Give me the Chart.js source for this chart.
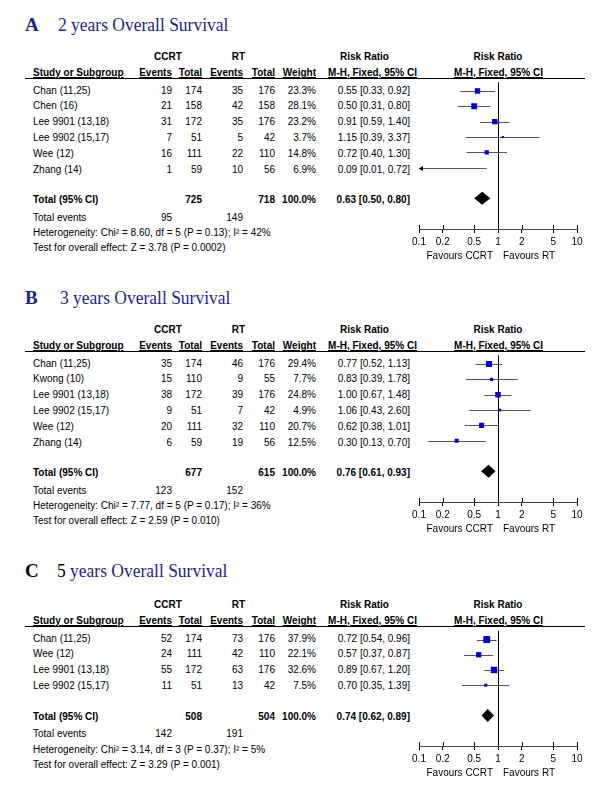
<!DOCTYPE html>
<html><head><meta charset="utf-8">
<script src="https://cdn.jsdelivr.net/npm/chart.js@4.4.0/dist/chart.umd.min.js"></script>
<style>
html,body{margin:0;padding:0;background:#fff;}
#wrap{position:relative;width:600px;height:797px;overflow:hidden;font-family:"Liberation Sans",Arial,sans-serif;font-size:10px;color:#000;}
.t{position:absolute;white-space:nowrap;line-height:12px;height:12px;}
.b{font-weight:bold;}
.u{text-decoration:underline;}
.title{position:absolute;white-space:nowrap;font-family:"Liberation Serif","Times New Roman",serif;font-size:19px;line-height:22px;color:#1e1e8e;transform-origin:left center;}
canvas{position:absolute;}
.hline{position:absolute;height:1px;background:#000;}
</style></head><body><div id="wrap"></div>
<script>
// ---------- Panel A : 2 years Overall Survival ----------
const studiesA = ["Chan (11,25)", "Chen (16)", "Lee 9901 (13,18)", "Lee 9902 (15,17)", "Wee (12)", "Zhang (14)"];
const ccrtEventsA = [19, 21, 31, 7, 16, 1];
const ccrtTotalA = [174, 158, 172, 51, 111, 59];
const rtEventsA = [35, 42, 35, 5, 22, 10];
const rtTotalA = [176, 158, 176, 42, 110, 56];
const weightA = [23.3, 28.1, 23.2, 3.7, 14.8, 6.9];
const rrA = [0.55, 0.50, 0.91, 1.15, 0.72, 0.09];
const lowA = [0.33, 0.31, 0.59, 0.39, 0.40, 0.01];
const highA = [0.92, 0.80, 1.40, 3.37, 1.30, 0.72];
const totalA = [725, 718, 95, 149];           // CCRT total, RT total, CCRT events, RT events
const pooledA = [0.63, 0.50, 0.80];
const hetA = "Heterogeneity: Chi\u00B2 = 8.60, df = 5 (P = 0.13); I\u00B2 = 42%";
const testA = "Test for overall effect: Z = 3.78 (P = 0.0002)";

// ---------- Panel B : 3 years Overall Survival ----------
const studiesB = ["Chan (11,25)", "Kwong (10)", "Lee 9901 (13,18)", "Lee 9902 (15,17)", "Wee (12)", "Zhang (14)"];
const ccrtEventsB = [35, 15, 38, 9, 20, 6];
const ccrtTotalB = [174, 110, 172, 51, 111, 59];
const rtEventsB = [46, 9, 39, 7, 32, 19];
const rtTotalB = [176, 55, 176, 42, 110, 56];
const weightB = [29.4, 7.7, 24.8, 4.9, 20.7, 12.5];
const rrB = [0.77, 0.83, 1.00, 1.06, 0.62, 0.30];
const lowB = [0.52, 0.39, 0.67, 0.43, 0.38, 0.13];
const highB = [1.13, 1.78, 1.48, 2.60, 1.01, 0.70];
const totalB = [677, 615, 123, 152];
const pooledB = [0.76, 0.61, 0.93];
const hetB = "Heterogeneity: Chi\u00B2 = 7.77, df = 5 (P = 0.17); I\u00B2 = 36%";
const testB = "Test for overall effect: Z = 2.59 (P = 0.010)";

// ---------- Panel C : 5 years Overall Survival ----------
const studiesC = ["Chan (11,25)", "Wee (12)", "Lee 9901 (13,18)", "Lee 9902 (15,17)"];
const ccrtEventsC = [52, 24, 55, 11];
const ccrtTotalC = [174, 111, 172, 51];
const rtEventsC = [73, 42, 63, 13];
const rtTotalC = [176, 110, 176, 42];
const weightC = [37.9, 22.1, 32.6, 7.5];
const rrC = [0.72, 0.57, 0.89, 0.70];
const lowC = [0.54, 0.37, 0.67, 0.35];
const highC = [0.96, 0.87, 1.20, 1.39];
const totalC = [508, 504, 142, 191];
const pooledC = [0.74, 0.62, 0.89];
const hetC = "Heterogeneity: Chi\u00B2 = 3.14, df = 3 (P = 0.37); I\u00B2 = 5%";
const testC = "Test for overall effect: Z = 3.29 (P = 0.001)";

const axisTicks = [0.1, 0.2, 0.5, 1, 2, 5, 10];

// ---------- layout ----------
const wrap = document.getElementById('wrap');
const ROW = 15.8;

function T(x, y, s, align, cls) {
  const d = document.createElement('div');
  d.className = 't ' + (cls || '');
  d.textContent = s;
  if (align === 'r') { d.style.left = (x - 200) + 'px'; d.style.width = '200px'; d.style.textAlign = 'right'; }
  else if (align === 'c') { d.style.left = (x - 150) + 'px'; d.style.width = '300px'; d.style.textAlign = 'center'; }
  else d.style.left = x + 'px';
  d.style.top = (y - 7) + 'px';
  wrap.appendChild(d);
  return d;
}
const f2 = v => v.toFixed(2);
const ciTxt = (r, l, h) => f2(r) + ' [' + f2(l) + ', ' + f2(h) + ']';

function makeForestPlugin(lo, hi, pooled) {
  return {
    id: 'forest',
    beforeDatasetsDraw(chart) {
      const { ctx, chartArea: a, scales: { x, y } } = chart;
      ctx.save();
      ctx.lineWidth = 1;
      // line of no effect
      const x1 = Math.round(x.getPixelForValue(1)) + 0.5;
      ctx.strokeStyle = '#000';
      ctx.beginPath(); ctx.moveTo(x1, a.top); ctx.lineTo(x1, a.bottom); ctx.stroke();
      // confidence intervals
      lo.forEach((l, i) => {
        const h = hi[i];
        const yy = Math.round(y.getPixelForValue(i)) + 0.5;
        const xl = x.getPixelForValue(Math.max(l, x.min));
        const xr = x.getPixelForValue(Math.min(h, x.max));
        ctx.strokeStyle = '#555';
        ctx.beginPath(); ctx.moveTo(xl, yy); ctx.lineTo(xr, yy); ctx.stroke();
        ctx.fillStyle = '#000';
        if (l < x.min) {
          ctx.beginPath(); ctx.moveTo(xl, yy); ctx.lineTo(xl + 4, yy - 2.5); ctx.lineTo(xl + 4, yy + 2.5); ctx.closePath(); ctx.fill();
        }
        if (h > x.max) {
          ctx.beginPath(); ctx.moveTo(xr, yy); ctx.lineTo(xr - 4, yy - 2.5); ctx.lineTo(xr - 4, yy + 2.5); ctx.closePath(); ctx.fill();
        }
      });
      // pooled diamond
      const yd = y.getPixelForValue(lo.length + 1);
      const xc = x.getPixelForValue(pooled[0]);
      const xa = x.getPixelForValue(pooled[1]);
      const xb = x.getPixelForValue(pooled[2]);
      ctx.fillStyle = '#000';
      ctx.beginPath();
      ctx.moveTo(xa, yd); ctx.lineTo(xc, yd - 6.5); ctx.lineTo(xb, yd); ctx.lineTo(xc, yd + 6.5);
      ctx.closePath(); ctx.fill();
      ctx.restore();
    },
    afterDraw(chart) {
      const { ctx, chartArea: a, scales: { x } } = chart;
      ctx.save();
      ctx.strokeStyle = '#000'; ctx.lineWidth = 1;
      x.ticks.forEach(t => {
        const px = Math.round(x.getPixelForValue(t.value)) + 0.5;
        ctx.beginPath(); ctx.moveTo(px, a.bottom - 4); ctx.lineTo(px, a.bottom); ctx.stroke();
      });
      ctx.restore();
    }
  };
}

function panel(p) {
  const L = p.L, n = p.studies.length;
  // title
  const tl = document.createElement('div');
  tl.className = 'title';
  tl.style.left = '25px'; tl.style.top = (p.titleY - 11) + 'px';
  tl.innerHTML = '<b style="color:' + p.letterColor + '">' + p.letter + '</b>';
  wrap.appendChild(tl);
  const tt = document.createElement('div');
  tt.className = 'title';
  tt.style.left = p.titleX + 'px'; tt.style.top = (p.titleY - 11) + 'px';
  tt.style.transform = 'scaleX(0.92)';
  if (p.numColor) {
    tt.innerHTML = '<span style="color:' + p.numColor + '">' + p.titleNum + ' </span>' + p.titleRest;
  } else {
    tt.textContent = p.titleNum + ' ' + p.titleRest;
  }
  wrap.appendChild(tt);

  // headers
  T(168, L - 20, 'CCRT', 'c', 'b');
  T(238.5, L - 20, 'RT', 'c', 'b');
  T(364.5, L - 20, 'Risk Ratio', 'c', 'b');
  T(498, L - 20, 'Risk Ratio', 'c', 'b');
  T(33, L - 4, 'Study or Subgroup', 'l', 'b u');
  T(172, L - 4, 'Events', 'r', 'b u');
  T(202, L - 4, 'Total', 'r', 'b u');
  T(243, L - 4, 'Events', 'r', 'b u');
  T(275, L - 4, 'Total', 'r', 'b u');
  T(316, L - 4, 'Weight', 'r', 'b u');
  T(372.5, L - 4, 'M-H, Fixed, 95% CI', 'c', 'b u');
  T(498.5, L - 4, 'M-H, Fixed, 95% CI', 'c', 'b u');
  const hl = document.createElement('div');
  hl.className = 'hline';
  hl.style.left = '25px'; hl.style.width = '560px'; hl.style.top = L + 'px';
  wrap.appendChild(hl);

  // study rows
  p.studies.forEach((s, i) => {
    const y = L + 13.5 + i * ROW;
    T(33, y, s, 'l');
    T(172, y, String(p.ce[i]), 'r');
    T(202, y, String(p.ct[i]), 'r');
    T(243, y, String(p.re[i]), 'r');
    T(275, y, String(p.rt[i]), 'r');
    T(316, y, p.w[i].toFixed(1) + '%', 'r');
    T(410, y, ciTxt(p.rr[i], p.lo[i], p.hi[i]), 'r');
  });
  const yT = L + 13.5 + (n + 1) * ROW - 1;
  T(33, yT, 'Total (95% CI)', 'l', 'b');
  T(202, yT, String(p.tot[0]), 'r', 'b');
  T(275, yT, String(p.tot[1]), 'r', 'b');
  T(316, yT, '100.0%', 'r', 'b');
  T(410, yT, ciTxt(p.pooled[0], p.pooled[1], p.pooled[2]), 'r', 'b');
  T(33, yT + 17.5, 'Total events', 'l');
  T(172, yT + 17.5, String(p.tot[2]), 'r');
  T(243, yT + 17.5, String(p.tot[3]), 'r');
  T(33, yT + 33, p.het, 'l');
  T(33, yT + 48, p.test, 'l');

  // forest plot
  const chartH = (n + 3.57) * ROW;
  const axisY = L + chartH;
  const cv = document.createElement('canvas');
  cv.width = 200; cv.height = Math.round(chartH + 30);
  cv.style.left = '400px'; cv.style.top = L + 'px';
  cv.style.width = '200px'; cv.style.height = cv.height + 'px';
  wrap.appendChild(cv);

  T(493, axisY + 28, 'Favours CCRT', 'r');
  T(503, axisY + 28, 'Favours RT', 'l');

  const pts = [];
  p.rr.forEach((v, i) => { if (v >= 0.1 && v <= 10) pts.push({ x: v, y: i, w: p.w[i] }); });

  new Chart(cv.getContext('2d'), {
    type: 'scatter',
    data: {
      datasets: [{
        data: pts,
        pointStyle: 'rect',
        pointRadius: c => (c.raw ? 1.12 * Math.sqrt(c.raw.w) / Math.SQRT2 : 0),
        pointHoverRadius: c => (c.raw ? 1.12 * Math.sqrt(c.raw.w) / Math.SQRT2 : 0),
        backgroundColor: '#0000cc',
        borderColor: '#0000cc',
        borderWidth: 0
      }]
    },
    options: {
      responsive: false,
      animation: false,
      devicePixelRatio: 1,
      events: [],
      layout: { padding: { left: 19, right: 23, top: 0, bottom: 0 } },
      plugins: { legend: { display: false }, tooltip: { enabled: false } },
      scales: {
        x: {
          type: 'logarithmic', min: 0.1, max: 10, position: 'bottom',
          afterBuildTicks: s => { s.ticks = axisTicks.map(v => ({ value: v })); },
          afterFit: s => { s.height = 30; },
          grid: { drawOnChartArea: false, drawTicks: true, tickLength: 4, color: '#000' },
          border: { display: true, color: '#444', width: 1 },
          ticks: {
            padding: 3, autoSkip: false, maxRotation: 0, color: '#000',
            font: { family: '"Liberation Sans", Arial, sans-serif', size: 10 },
            callback: v => String(v)
          }
        },
        y: { type: 'linear', reverse: true, min: -0.57, max: n + 3, display: false }
      }
    },
    plugins: [makeForestPlugin(p.lo, p.hi, p.pooled)]
  });
}

const BLUE = '#1e1e8e';
panel({ L: 78, titleY: 25.3, titleX: 58, letter: 'A', letterColor: BLUE, titleNum: '2', titleRest: 'years Overall Survival',
  studies: studiesA, ce: ccrtEventsA, ct: ccrtTotalA, re: rtEventsA, rt: rtTotalA, w: weightA,
  rr: rrA, lo: lowA, hi: highA, tot: totalA, pooled: pooledA, het: hetA, test: testA });
panel({ L: 351, titleY: 298.3, titleX: 60, letter: 'B', letterColor: BLUE, titleNum: '3', titleRest: 'years Overall Survival',
  studies: studiesB, ce: ccrtEventsB, ct: ccrtTotalB, re: rtEventsB, rt: rtTotalB, w: weightB,
  rr: rrB, lo: lowB, hi: highB, tot: totalB, pooled: pooledB, het: hetB, test: testB });
panel({ L: 626, titleY: 571, titleX: 57, letter: 'C', letterColor: '#000', titleNum: '5', numColor: '#000', titleRest: 'years Overall Survival',
  studies: studiesC, ce: ccrtEventsC, ct: ccrtTotalC, re: rtEventsC, rt: rtTotalC, w: weightC,
  rr: rrC, lo: lowC, hi: highC, tot: totalC, pooled: pooledC, het: hetC, test: testC });
</script>
</body></html>
